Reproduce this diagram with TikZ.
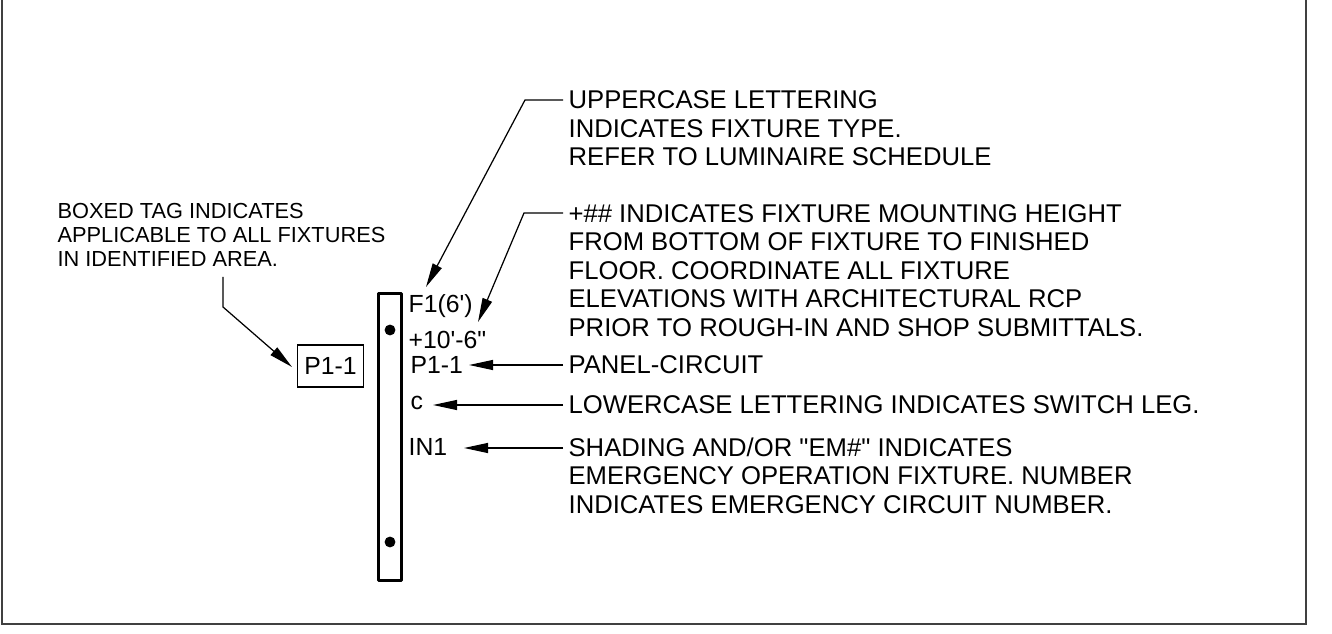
\documentclass[tikz,border=0pt]{standalone}
\usepackage{fontspec}
\setmainfont{Liberation Sans}
\usetikzlibrary{arrows.meta, positioning}
\tikzset{
  every picture/.style={line width=0.7pt},
  note/.style={font=\fontsize{14.6}{16.3}\selectfont, align=left, anchor=north west, inner sep=0pt},
  smallnote/.style={font=\fontsize{12.4}{13.65}\selectfont, align=left, anchor=north west, inner sep=0pt},
  tag/.style={font=\fontsize{14.1}{16}\selectfont, anchor=west, inner sep=0pt},
  arrow/.style={-{Triangle[length=13.7pt, width=5.7pt]}, line width=0.7pt},
  fixture/.style={draw, line width=1.6pt, line join=round},
  dot/.style={circle, fill=black, inner sep=0pt, minimum size=6.2pt},
}
\begin{document}
\begin{tikzpicture}[x=0.02cm, y=-0.02cm]
  \useasboundingbox (0, 0) rectangle (1332, 634);
  \coordinate (fa) at (2, 0); \coordinate (fb) at (2, 624);
  \coordinate (fc) at (1306, 624); \coordinate (fd) at (1306, 0);
  \draw[black!75, line width=0.8pt] (fa) -- (fb) -- (fc) -- (fd);
  % fixture
  \coordinate (la) at (378.5, 293.5); \coordinate (lb) at (401.5, 580.5);
  \draw[fixture] (la) rectangle (lb);
  \node[dot] (d1) at (390, 330) {};
  \node[dot] (d2) at (390, 542) {};
  % tags
  \node[tag] (f1) at (408, 306) {F1(6\textquotesingle)};
  \node[tag] (mh) at (408, 340) {+10\textquotesingle-6\textquotedbl};
  \node[tag] (pc) at (410, 365) {P1-1};
  \node[tag] (sw) at (410, 403) {c};
  \node[tag] (in) at (408, 447) {IN1};
  \node[tag, anchor=center, draw, line width=0.6pt, minimum width=38pt, minimum height=23.9pt] (box) at (330.5, 366) {P1-1};
  % notes
  \node[note] (n1) at (568, 90) {UPPERCASE LETTERING\\INDICATES FIXTURE TYPE.\\REFER TO LUMINAIRE SCHEDULE};
  \node[note] (n2) at (568, 203.5) {+\#\# INDICATES FIXTURE MOUNTING HEIGHT\\FROM BOTTOM OF FIXTURE TO FINISHED\\FLOOR. COORDINATE ALL FIXTURE\\ELEVATIONS WITH ARCHITECTURAL RCP\\PRIOR TO ROUGH-IN AND SHOP SUBMITTALS.};
  \node[note] (n3) at (568, 355) {PANEL-CIRCUIT};
  \node[note] (n4) at (568, 395) {LOWERCASE LETTERING INDICATES SWITCH LEG.};
  \node[note] (n5) at (568, 437) {SHADING AND/OR \textquotedbl EM\#\textquotedbl{} INDICATES\\EMERGENCY OPERATION FIXTURE. NUMBER\\INDICATES EMERGENCY CIRCUIT NUMBER.};
  \node[smallnote] (n6) at (57, 203) {BOXED TAG INDICATES\\APPLICABLE TO ALL FIXTURES\\IN IDENTIFIED AREA.};
  % leaders
  \coordinate (t1) at (426, 287); \coordinate (t2) at (478, 322);
  \coordinate (t3) at (469, 365); \coordinate (t4) at (433, 405);
  \coordinate (t5) at (464, 448); \coordinate (t6) at (292, 367);
  \coordinate (s1) at (563, 100); \coordinate (s2) at (563, 213);
  \coordinate (s3) at (563, 365); \coordinate (s4) at (563, 405);
  \coordinate (s5) at (563, 448); \coordinate (s6) at (223, 277);
  \draw[arrow] (s1) -- (525, 100) -- (t1);
  \draw[arrow] (s2) -- (524, 213) -- (t2);
  \draw[arrow] (s3) -- (t3);
  \draw[arrow] (s4) -- (t4);
  \draw[arrow] (s5) -- (t5);
  \draw[arrow] (s6) -- (223, 307) -- (t6);
\end{tikzpicture}
\end{document}
